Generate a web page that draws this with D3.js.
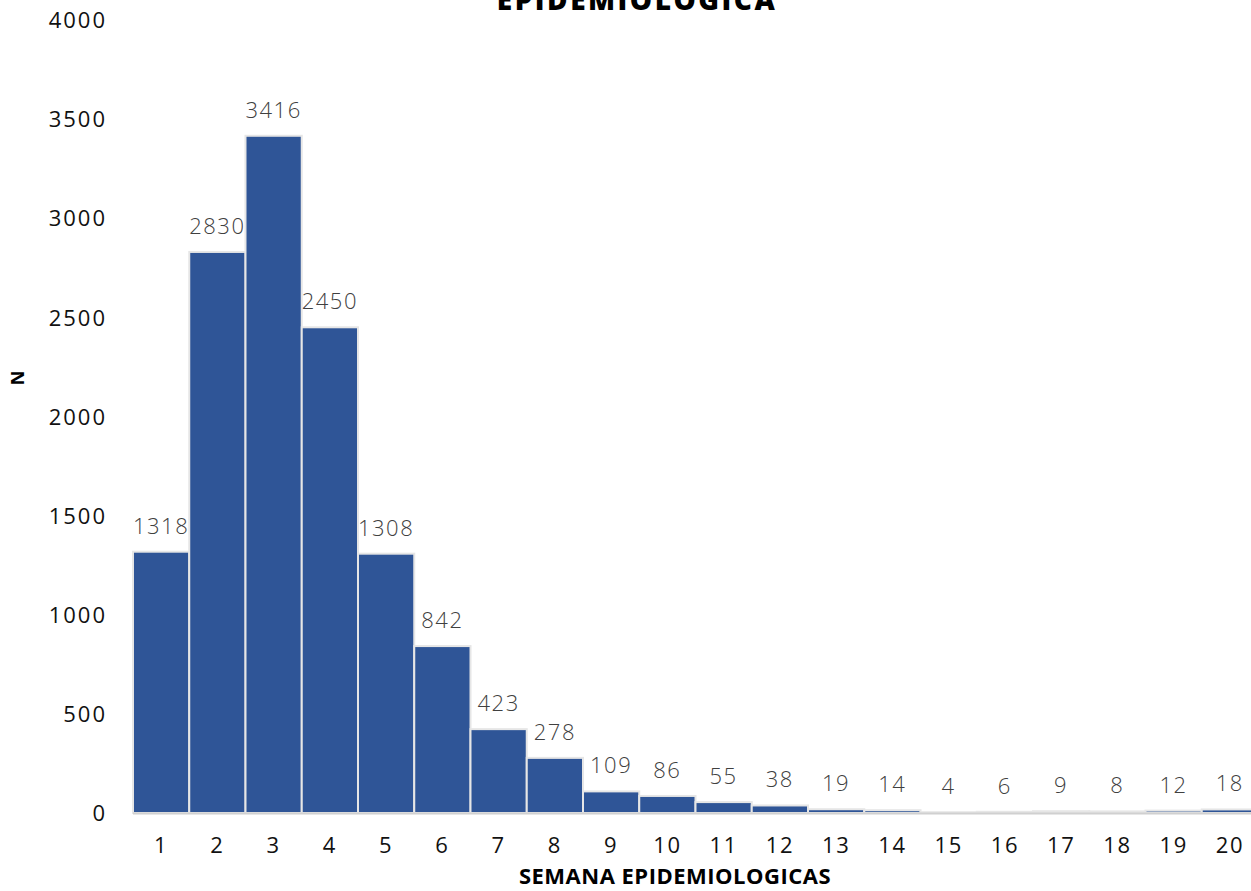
<!DOCTYPE html>
<html><head><meta charset="utf-8">
<script src="https://cdn.jsdelivr.net/npm/d3@7/dist/d3.min.js"></script>
<style>body{margin:0;background:#fff;overflow:hidden}svg{display:block}</style>
</head><body>
<svg id="c" width="1251" height="891"></svg>
<script>
const categories = ["1","2","3","4","5","6","7","8","9","10","11","12","13","14","15","16","17","18","19","20"];
const values = [1318,2830,3416,2450,1308,842,423,278,109,86,55,38,19,14,4,6,9,8,12,18];
const yTicks = [0,500,1000,1500,2000,2500,3000,3500,4000];
const titleText = "EPIDEMIOLOGICA";
const xTitle = "SEMANA EPIDEMIOLOGICAS";
const yTitle = "N";

const svg = d3.select("#c");
const font = "'Open Sans', sans-serif";
const x = d3.scaleBand().domain(categories).range([133, 1258]).padding(0);
const y = d3.scaleLinear().domain([0, 4000]).range([813, 20]);

// title (partially cut off at top)
svg.append("text").attr("x", 637).attr("y", 10).attr("text-anchor", "middle")
  .attr("font-family", font).attr("font-weight", 800).attr("font-size", 28)
  .attr("letter-spacing", 2.5).attr("fill", "#000").text(titleText);

// y axis labels
const yAxis = svg.append("g").attr("transform", "translate(107,0)")
  .call(d3.axisLeft(y).tickValues(yTicks).tickFormat(d3.format("d")).tickSize(0).tickPadding(0));
yAxis.select(".domain").remove();
yAxis.selectAll("text").attr("font-family", font).attr("font-size", 22)
  .attr("letter-spacing", 2).attr("fill", "#111").attr("dy", "0.35em");

// bars
svg.append("g").selectAll("rect").data(values).join("rect")
  .attr("x", (d, i) => x(categories[i]))
  .attr("width", x.bandwidth())
  .attr("y", d => y(d))
  .attr("height", d => y(0) - y(d))
  .attr("fill", "#2F5597")
  .attr("stroke", "#e6e6e6").attr("stroke-width", 2);

// baseline
svg.append("line").attr("x1", 133).attr("x2", 1258).attr("y1", y(0) + 0.5).attr("y2", y(0) + 0.5)
  .attr("stroke", "#d0d0d0").attr("stroke-width", 2);

// value labels
svg.append("g").selectAll("text").data(values).join("text")
  .attr("x", (d, i) => x(categories[i]) + x.bandwidth() / 2)
  .attr("y", d => y(d) - 18)
  .attr("text-anchor", "middle")
  .attr("font-family", font).attr("font-size", 22).attr("font-weight", 300).attr("letter-spacing", 1.5)
  .attr("fill", "#404040").text(d => d);

// x axis
const xAxis = svg.append("g").attr("transform", `translate(0,${y(0)})`)
  .call(d3.axisBottom(x).tickSize(0).tickPadding(24));
xAxis.select(".domain").remove();
xAxis.selectAll("text").attr("font-family", font).attr("font-size", 22)
  .attr("letter-spacing", 1.5).attr("fill", "#111");

// axis titles
svg.append("text").attr("x", 675).attr("y", 884).attr("text-anchor", "middle")
  .attr("font-family", font).attr("font-weight", 700).attr("font-size", 22)
  .attr("letter-spacing", 0.5).attr("fill", "#000").text(xTitle);
svg.append("text").attr("transform", "translate(24,378) rotate(-90)").attr("text-anchor", "middle")
  .attr("font-family", font).attr("font-weight", 700).attr("font-size", 18)
  .attr("fill", "#000").text(yTitle);
</script>
</body></html>
